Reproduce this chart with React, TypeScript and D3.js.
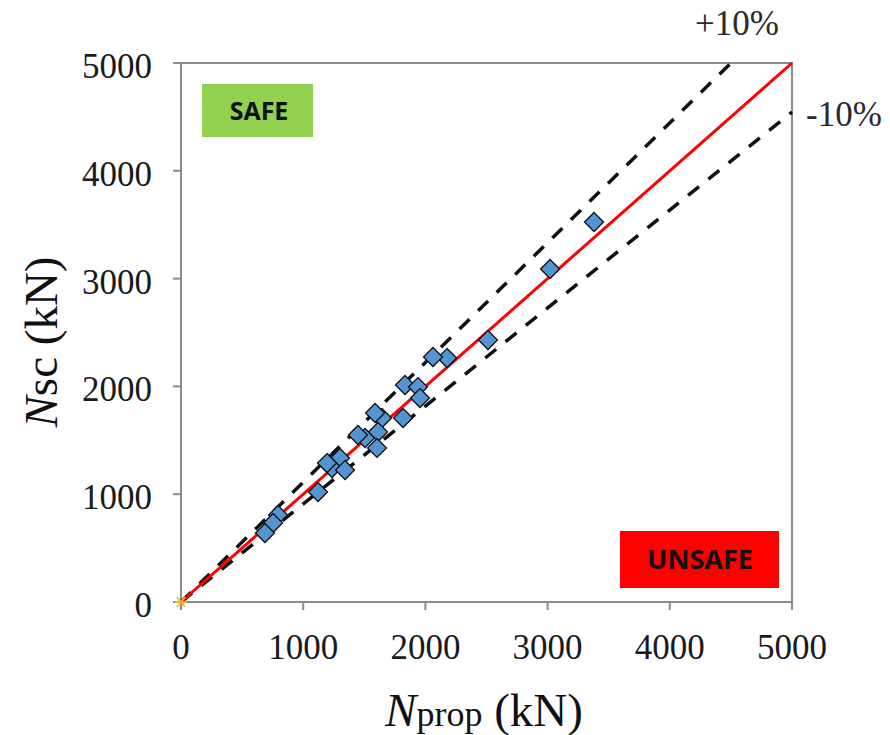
import React from 'react';
import * as d3 from 'd3';

// Nprop (kN) vs Nsc (kN)
const nProp = [3380, 3020, 2512, 2177, 2062, 1833, 1939, 1956, 1817, 1645, 1588, 1612, 1506, 1604, 1448, 1301, 1236, 1342, 1195, 1121, 794, 753, 687];
const nSc = [3525, 3089, 2430, 2263, 2273, 2013, 1994, 1892, 1707, 1707, 1753, 1577, 1521, 1429, 1549, 1336, 1243, 1224, 1289, 1020, 807, 733, 640];
const ticks = [0, 1000, 2000, 3000, 4000, 5000];
const upperFactor = 1 / 0.9;
const lowerFactor = 1 / 1.1;

const W = 890;
const H = 735;
const margin = { top: 63, right: 98, bottom: 133, left: 181 };

const App = () => {
  const x = d3.scaleLinear().domain([0, 5000]).range([margin.left, W - margin.right]);
  const y = d3.scaleLinear().domain([0, 5000]).range([H - margin.bottom, margin.top]);

  const line = d3.line<[number, number]>().x(d => x(d[0])).y(d => y(d[1]));
  const diamond = d3.symbol().type(d3.symbolDiamond2).size(230)();
  const serif = '"Liberation Serif", "Times New Roman", serif';
  const sans = '"Open Sans", "Liberation Sans", sans-serif';
  const axisColor = '#8c8c8c';

  return (
    <svg width={W} height={H} style={{ position: 'absolute', left: 0, top: 0 }} fontFamily={serif}>
      <rect width={W} height={H} fill="#fff" />

      {/* frame */}
      <rect x={x(0)} y={y(5000)} width={x(5000) - x(0)} height={y(0) - y(5000)} fill="none" stroke={axisColor} strokeWidth={2} />

      {/* x ticks */}
      {ticks.map(t => (
        <g key={'x' + t}>
          <line x1={x(t)} x2={x(t)} y1={y(0)} y2={y(0) + 8} stroke={axisColor} strokeWidth={2} />
          <text x={x(t)} y={y(0) + 57} textAnchor="middle" fontSize={35} fill="#1a1a1a">{t}</text>
        </g>
      ))}
      {/* y ticks */}
      {ticks.map(t => (
        <g key={'y' + t}>
          <line x1={x(0) - 8} x2={x(0)} y1={y(t)} y2={y(t)} stroke={axisColor} strokeWidth={2} />
          <text x={x(0) - 29} y={y(t) + 15} textAnchor="end" fontSize={35} fill="#1a1a1a">{t}</text>
        </g>
      ))}

      {/* boxes */}
      <rect x={202} y={84} width={111} height={53} fill="#92D050" />
      <text x={259} y={120} textAnchor="middle" fontFamily={sans} fontWeight="bold" fontSize={25} fill="#111">SAFE</text>
      <rect x={620} y={531} width={159} height={57} fill="#FF0000" />
      <text x={700} y={569} textAnchor="middle" fontFamily={sans} fontWeight="bold" fontSize={27} fill="#111">UNSAFE</text>

      {/* bounds */}
      <path d={line([[0, 0], [5000 / upperFactor, 5000]]) || ''} fill="none" stroke="#111" strokeWidth={3.5} strokeDasharray="14 12" />
      <path d={line([[0, 0], [5000, 5000 * lowerFactor]]) || ''} fill="none" stroke="#111" strokeWidth={3.5} strokeDasharray="14 12" />
      <path d={line([[0, 0], [5000, 5000]]) || ''} fill="none" stroke="#ff0000" strokeWidth={3} />

      {/* points */}
      {nProp.map((v, i) => (
        <path key={i} d={diamond || ''} transform={`translate(${x(v)},${y(nSc[i])})`} fill="#5594d3" stroke="#111" strokeWidth={1.3} />
      ))}

      {/* origin asterisk */}
      <g transform={`translate(${x(0)},${y(0)})`} stroke="#f5b82e" strokeWidth={1.8}>
        <line x1={-6} x2={6} y1={0} y2={0} />
        <line x1={-4} x2={4} y1={-5} y2={5} />
        <line x1={-4} x2={4} y1={5} y2={-5} />
      </g>

      {/* percentage labels */}
      <text x={737} y={35} textAnchor="middle" fontSize={35} fill="#2a2a2a">+10%</text>
      <text x={844} y={126} textAnchor="middle" fontSize={35} fill="#2a2a2a">-10%</text>

      {/* axis titles */}
      <text x={484} y={726} textAnchor="middle" fontSize={47} fill="#111">
        <tspan fontStyle="italic">N</tspan>
        <tspan fontSize={36}>prop</tspan>
        <tspan> (kN)</tspan>
      </text>
      <text transform={`translate(57,${342}) rotate(-90)`} textAnchor="middle" fontSize={47} fill="#111">
        <tspan fontStyle="italic">N</tspan>
        <tspan>sc (kN)</tspan>
      </text>
    </svg>
  );
};

export default App;
